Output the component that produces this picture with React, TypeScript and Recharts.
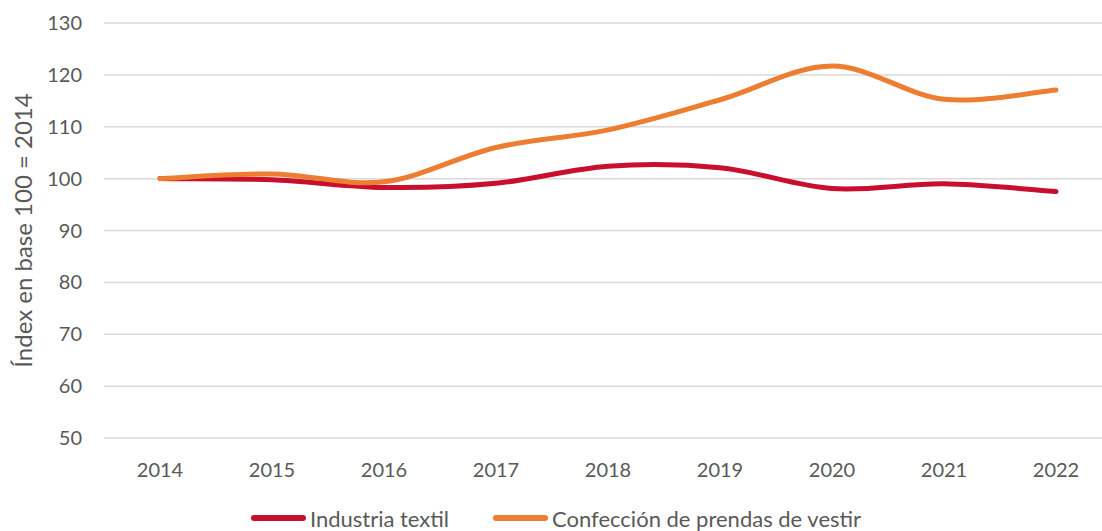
import React from "react";
import { LineChart, Line, XAxis, YAxis, CartesianGrid, Legend } from "recharts";

const years = ["2014", "2015", "2016", "2017", "2018", "2019", "2020", "2021", "2022"];
const textil = [100, 99.8, 98.3, 99.1, 102.4, 102.1, 98.1, 99.0, 97.5];
const confeccion = [100, 100.9, 99.4, 106.0, 109.4, 115.2, 121.7, 115.3, 117.1];
const yTicks = [50, 60, 70, 80, 90, 100, 110, 120, 130];
const seriesNames = ["Industria textil", "Confección de prendas de vestir"];

const data = years.map((year, i) => ({ year, textil: textil[i], confeccion: confeccion[i] }));

const FONT = "Lato, 'Open Sans', sans-serif";
const TEXT = "#595959";

// smoothed line like the spreadsheet one (catmull-rom through the points)
function smoothCurve(context: any) {
  let pts: number[][] = [];
  return {
    areaStart() {},
    areaEnd() {},
    lineStart() {
      pts = [];
    },
    lineEnd() {
      if (!pts.length) return;
      context.moveTo(pts[0][0], pts[0][1]);
      for (let i = 0; i < pts.length - 1; i++) {
        const p0 = pts[i - 1] || pts[i];
        const p1 = pts[i];
        const p2 = pts[i + 1];
        const p3 = pts[i + 2] || p2;
        context.bezierCurveTo(
          p1[0] + (p2[0] - p0[0]) / 6,
          p1[1] + (p2[1] - p0[1]) / 6,
          p2[0] - (p3[0] - p1[0]) / 6,
          p2[1] - (p3[1] - p1[1]) / 6,
          p2[0],
          p2[1]
        );
      }
    },
    point(x: number, y: number) {
      pts.push([+x, +y]);
    },
  };
}

function LegendContent({ payload }: any) {
  const items = [...(payload || [])].sort((a: any, b: any) => seriesNames.indexOf(a.value) - seriesNames.indexOf(b.value));
  return (
    <div style={{ display: "flex", justifyContent: "center", height: 26, alignItems: "center", fontFamily: FONT, fontSize: 22, color: TEXT }}>
      {items.map((entry: any) => (
        <div key={entry.value} style={{ display: "flex", alignItems: "center", margin: "0 22px" }}>
          <span style={{ display: "inline-block", width: 55, height: 6, borderRadius: 3, background: entry.color, marginRight: 4 }} />
          <span>{entry.value}</span>
        </div>
      ))}
    </div>
  );
}

function YLabel({ viewBox }: any) {
  const cy = viewBox.y + viewBox.height / 2;
  return (
    <text x={22} y={cy} transform={`rotate(-90 22 ${cy})`} textAnchor="middle" dominantBaseline="central" fill={TEXT} fontSize={24} fontFamily={FONT}>
      Índex en base 100 = 2014
    </text>
  );
}

export default function App() {
  return (
    <div style={{ position: "absolute", left: 0, top: 0, width: 1102, height: 531, overflow: "hidden", background: "#fff" }}>
      <LineChart width={1120} height={531} data={data} margin={{ top: 23, right: 8, left: 0, bottom: 0 }}>
        <CartesianGrid vertical={false} stroke="#d9d9d9" strokeWidth={1.5} />
        <XAxis
          dataKey="year"
          axisLine={false}
          tickLine={false}
          tickSize={0}
          tickMargin={25}
          height={67}
          padding={{ left: 56, right: 56 }}
          tick={{ fontSize: 20, fill: TEXT, fontFamily: FONT }}
        />
        <YAxis
          domain={[50, 130]}
          ticks={yTicks}
          axisLine={false}
          tickLine={false}
          tickSize={0}
          tickMargin={22}
          width={104}
          tick={{ fontSize: 20, fill: TEXT, fontFamily: FONT }}
          label={<YLabel />}
        />
        <Legend verticalAlign="bottom" content={<LegendContent />} />
        <Line dataKey="textil" name={seriesNames[0]} type={smoothCurve as any} stroke="#c8102e" strokeWidth={5} strokeLinecap="round" dot={false} activeDot={false} isAnimationActive={false} />
        <Line dataKey="confeccion" name={seriesNames[1]} type={smoothCurve as any} stroke="#ed7d31" strokeWidth={5} strokeLinecap="round" dot={false} activeDot={false} isAnimationActive={false} />
      </LineChart>
    </div>
  );
}
